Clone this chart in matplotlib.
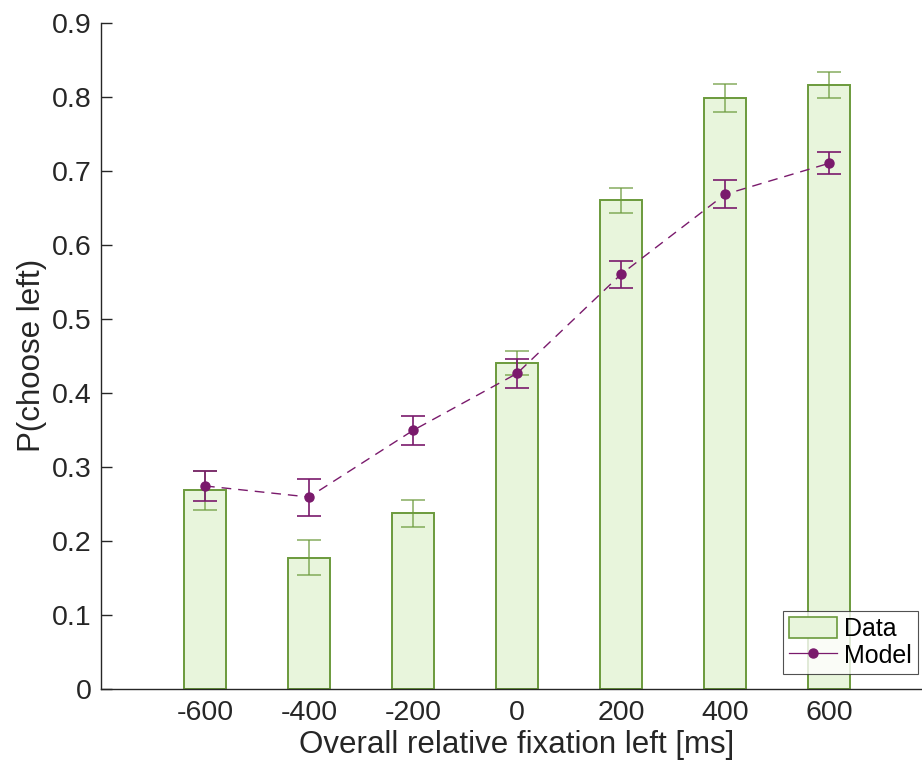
import numpy as np
import matplotlib.pyplot as plt
from matplotlib.patches import Patch
from matplotlib.lines import Line2D

plt.rcParams['font.family'] = ['Liberation Sans', 'DejaVu Sans']

# fixation time bins [ms]
fix_bins = [-600, -400, -200, 0, 200, 400, 600]

# observed choice probability and s.e.m.
data_p = [0.268, 0.177, 0.237, 0.440, 0.660, 0.798, 0.816]
data_err = [0.026, 0.024, 0.018, 0.016, 0.017, 0.019, 0.018]

# model prediction
model_p = [0.274, 0.259, 0.349, 0.426, 0.560, 0.668, 0.710]
model_err = [0.020, 0.025, 0.020, 0.019, 0.018, 0.019, 0.015]

green_edge = '#6b9a3c'
green_face = '#e8f5dc'
purple = '#7a1a6c'

fig = plt.figure(figsize=(9.22, 7.6), dpi=100)
ax = fig.add_axes([101/922, 71.3/760, 832/922, 666/760])

ax.bar(fix_bins, data_p, width=80, color=green_face, edgecolor=green_edge, linewidth=1.4, zorder=1)
ax.errorbar(fix_bins, data_p, yerr=data_err, fmt='none', ecolor=green_edge, elinewidth=1.2,
            capsize=8.6, capthick=1.2, alpha=0.75, zorder=2)
ax.errorbar(fix_bins, model_p, yerr=model_err, fmt='o', color=purple, ms=6.5, ls=(0, (7, 5)),
            lw=1.0, elinewidth=1.2, capsize=8.6, capthick=1.2, ecolor=purple, zorder=3)

ax.set_xlim(-800, 800)
ax.set_ylim(0, 0.9)
ax.set_xticks(fix_bins)
ax.set_xticklabels([str(v) for v in fix_bins])
ax.set_yticks(np.arange(0, 0.91, 0.1))
ax.set_yticklabels(['0'] + ['%.1f' % v for v in np.arange(0.1, 0.91, 0.1)])

ax.spines['top'].set_visible(False)
ax.spines['right'].set_visible(False)
for s in ['left', 'bottom']:
    ax.spines[s].set_color('#262626')
    ax.spines[s].set_linewidth(1.0)
ax.tick_params(axis='y', direction='in', length=8, width=1, colors='#262626', labelsize=20.5, pad=6.5)
ax.tick_params(axis='x', length=0, colors='#262626', labelsize=20.5, pad=8)

ax.set_xlabel('Overall relative fixation left [ms]', fontsize=22.5, color='#262626', labelpad=3)
ax.set_ylabel('P(choose left)', fontsize=22.5, color='#262626', labelpad=4)

handles = [Patch(facecolor=green_face, edgecolor=green_edge, linewidth=1.2),
           Line2D([0], [0], color=purple, lw=0.9, marker='o', ms=6.5)]
leg = fig.legend(handles, ['Data', 'Model'], loc='lower right',
                 bbox_to_anchor=(918/922, 86/760), bbox_transform=fig.transFigure,
                 fontsize=18, frameon=True, fancybox=False, borderaxespad=0,
                 handlelength=1.9, handleheight=0.9, handletextpad=0.3, borderpad=0.25,
                 labelspacing=0.1)
leg.get_frame().set_edgecolor('#262626')
leg.get_frame().set_linewidth(0.8)

fig.savefig('out.png', dpi=100)
